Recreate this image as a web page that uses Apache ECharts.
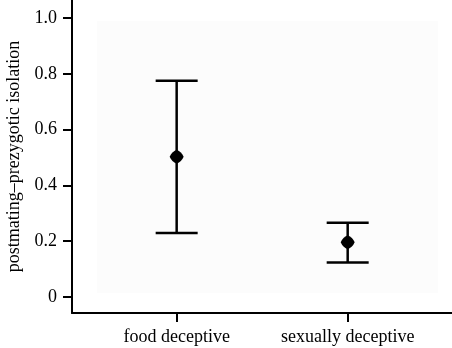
<!DOCTYPE html>
<html>
<head>
<meta charset="utf-8">
<script src="https://cdn.jsdelivr.net/npm/echarts@6/dist/echarts.min.js"></script>
<style>
  html, body { margin: 0; padding: 0; background: #fff; }
  #chart { width: 452px; height: 348px; }
</style>
</head>
<body>
<div id="chart"></div>
<script>
// data
const categories = ['food deceptive', 'sexually deceptive'];
const means = [0.503, 0.196];
const lowers = [0.229, 0.124];
const uppers = [0.775, 0.266];
const yTicks = [0, 0.2, 0.4, 0.6, 0.8, 1.0];

const font = 'Liberation Serif';
const chart = echarts.init(document.getElementById('chart'));

// error bar rows: [x, lower, upper]
const barData = categories.map((c, i) => [i, lowers[i], uppers[i]]);
const meanData = categories.map((c, i) => [i, means[i]]);

const option = {
  backgroundColor: '#fff',
  animation: false,
  graphic: [
    {
      type: 'rect',
      z: 0,
      shape: { x: 97, y: 21, width: 341, height: 272 },
      style: { fill: '#fcfcfc' },
      silent: true
    }
  ],
  grid: { left: 72, right: 0, top: 0, bottom: 35, outerBoundsMode: 'none', containLabel: false },
  xAxis: {
    type: 'value',
    min: -0.612,
    max: 1.61,
    splitLine: { show: false },
    axisLine: { show: true, onZero: false, lineStyle: { color: '#000', width: 2 } },
    axisTick: { show: true, customValues: [0, 1], length: 9, lineStyle: { color: '#000', width: 2 } },
    axisLabel: {
      customValues: [0, 1],
      formatter: v => categories[Math.round(v)],
      color: '#000',
      fontFamily: font,
      fontSize: 18,
      margin: 15
    }
  },
  yAxis: {
    type: 'value',
    min: -0.0573,
    max: 1.0645,
    name: 'postmating\u2013prezygotic isolation',
    nameLocation: 'middle',
    nameGap: 49,
    nameTextStyle: { color: '#000', fontFamily: font, fontSize: 18 },
    splitLine: { show: false },
    axisLine: { show: true, onZero: false, lineStyle: { color: '#000', width: 2 } },
    axisTick: { show: true, customValues: yTicks, length: 9, lineStyle: { color: '#000', width: 2 } },
    axisLabel: {
      customValues: yTicks,
      formatter: v => (v === 0 ? '0' : v.toFixed(1)),
      color: '#000',
      fontFamily: font,
      fontSize: 18,
      margin: 15
    }
  },
  series: [
    {
      type: 'custom',
      data: barData,
      z: 3,
      renderItem: function (params, api) {
        const x = api.value(0);
        const lo = api.coord([x, api.value(1)]);
        const hi = api.coord([x, api.value(2)]);
        const half = 21;
        const style = { stroke: '#000', lineWidth: 2.5 };
        return {
          type: 'group',
          children: [
            { type: 'line', shape: { x1: lo[0], y1: lo[1], x2: hi[0], y2: hi[1] }, style },
            { type: 'line', shape: { x1: hi[0] - half, y1: hi[1], x2: hi[0] + half, y2: hi[1] }, style },
            { type: 'line', shape: { x1: lo[0] - half, y1: lo[1], x2: lo[0] + half, y2: lo[1] }, style }
          ]
        };
      }
    },
    {
      type: 'scatter',
      data: meanData,
      z: 4,
      symbol: 'path://M0,-10 Q7,-7 10,0 Q7,7 0,10 Q-7,7 -10,0 Q-7,-7 0,-10 Z',
      symbolSize: 14,
      itemStyle: { color: '#000', opacity: 1 }
    }
  ]
};

chart.setOption(option);
</script>
</body>
</html>
